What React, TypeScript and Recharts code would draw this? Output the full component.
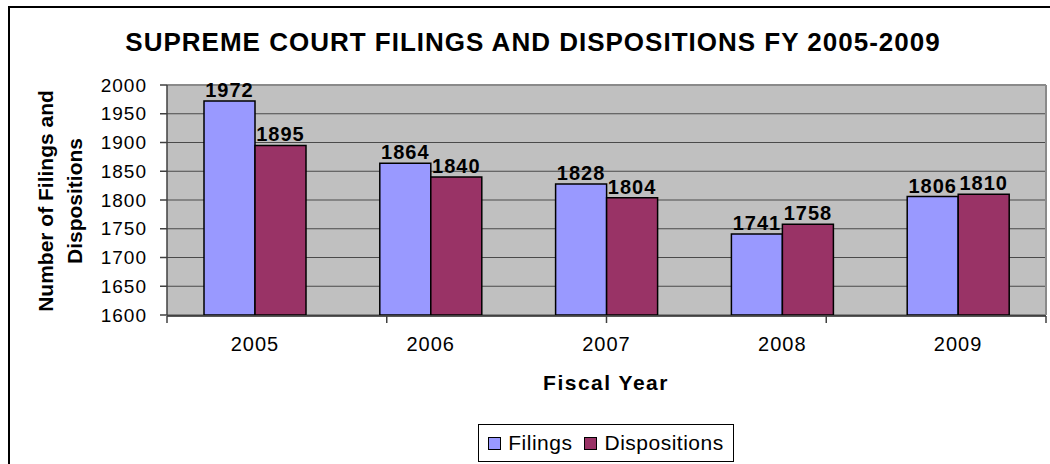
import { Bar, BarChart, CartesianGrid, LabelList, Legend, XAxis, YAxis } from 'recharts'

const years = ['2005', '2006', '2007', '2008', '2009']
const filings = [1972, 1864, 1828, 1741, 1806]
const dispositions = [1895, 1840, 1804, 1758, 1810]
const seriesNames = ['Filings', 'Dispositions']
const yTicks = [1600, 1650, 1700, 1750, 1800, 1850, 1900, 1950, 2000]
const edgeTicks = [0, 1, 2, 3, 4, 5]

const data = years.map((year, i) => ({ year, Filings: filings[i], Dispositions: dispositions[i] }))

const font = '"Liberation Sans", Arial, sans-serif'

function LegendBox({ payload }: any) {
  const items = [...(payload || [])].sort((a: any, b: any) => seriesNames.indexOf(a.value) - seriesNames.indexOf(b.value))
  return (
    <div style={{ display: 'flex', justifyContent: 'center' }}>
      <div
        style={{
          display: 'flex',
          alignItems: 'center',
          gap: 12,
          border: '1px solid #000',
          height: 36,
          padding: '0 9px',
          background: '#fff',
          fontSize: 21,
          fontFamily: font,
          color: '#000',
          letterSpacing: 0.5,
        }}
      >
        {items.map((p: any) => (
          <div key={p.value} style={{ display: 'flex', alignItems: 'center', gap: 7 }}>
            <span style={{ width: 11, height: 11, background: p.color, border: '1.5px solid #000', display: 'inline-block' }} />
            <span>{p.value}</span>
          </div>
        ))}
      </div>
    </div>
  )
}

const NoTick = () => <g />

export default function App() {
  return (
    <div style={{ position: 'fixed', left: 0, top: 0, width: 1050, height: 464, background: '#fff', fontFamily: font, overflow: 'hidden' }}>
      <div style={{ position: 'absolute', left: 8, top: 6, width: 1042, height: 458, borderLeft: '2px solid #000', borderTop: '2px solid #000' }} />
      <div style={{ position: 'absolute', left: 0, width: 1066, top: 27, textAlign: 'center', fontSize: 26, fontWeight: 'bold', letterSpacing: 1 }}>
        SUPREME COURT FILINGS AND DISPOSITIONS FY 2005-2009
      </div>
      <div style={{ position: 'absolute', left: 60, top: 201, width: 0, height: 0 }}>
        <div
          style={{
            position: 'absolute',
            transform: 'translate(-50%, -50%) rotate(-90deg)',
            width: 300,
            textAlign: 'center',
            fontSize: 21,
            fontWeight: 'bold',
            lineHeight: '29px',
            whiteSpace: 'nowrap',
          }}
        >
          Number of Filings and
          <br />
          Dispositions
        </div>
      </div>
      <div style={{ position: 'absolute', left: 0, width: 1212, top: 371, textAlign: 'center', fontSize: 21, fontWeight: 'bold', letterSpacing: 1.5 }}>
        Fiscal Year
      </div>
      <BarChart
        width={1050}
        height={464}
        data={data}
        margin={{ top: 84, right: 3, bottom: 109, left: 107 }}
        barCategoryGap={37}
        barGap={0}
        style={{ position: 'absolute', left: 0, top: 0 }}
      >
        <CartesianGrid vertical={false} stroke="#4a4a4a" fill="#C0C0C0" />
        <XAxis xAxisId="top" orientation="top" dataKey="year" height={1} tick={false} tickLine={false} axisLine={{ stroke: '#8a8a8a', strokeWidth: 2 }} />
        <XAxis
          dataKey="year"
          height={1}
          tickLine={false}
          axisLine={false}
          tickSize={0}
          tickMargin={22}
          interval={0}
          tick={{ fill: '#000', fontSize: 20, letterSpacing: 1 }}
        />
        <XAxis
          xAxisId="edges"
          type="number"
          domain={[0, 5]}
          ticks={edgeTicks}
          interval={0}
          allowDataOverflow
          height={1}
          tick={NoTick}
          tickSize={7}
          tickLine={{ stroke: '#404040', strokeWidth: 1.5 }}
          axisLine={{ stroke: '#202020', strokeWidth: 1.5 }}
        />
        <YAxis
          domain={[1600, 2000]}
          ticks={yTicks}
          interval={0}
          width={60}
          tickSize={7}
          tickMargin={13}
          allowDataOverflow
          tick={{ fill: '#000', fontSize: 19, letterSpacing: 1 }}
          tickLine={{ stroke: '#404040', strokeWidth: 1.5 }}
          axisLine={{ stroke: '#404040', strokeWidth: 1.5 }}
        />
        <YAxis
          yAxisId="right"
          orientation="right"
          domain={[1600, 2000]}
          width={1}
          tick={false}
          tickLine={false}
          axisLine={{ stroke: '#8a8a8a', strokeWidth: 2 }}
        />
        <Legend content={<LegendBox />} wrapperStyle={{ position: 'absolute', top: 424, left: 0, width: 1212, bottom: 'auto' }} />
        <Bar dataKey="Filings" fill="#9999FF" stroke="#000" strokeWidth={1.5} isAnimationActive={false}>
          <LabelList dataKey="Filings" position="top" offset={4} fill="#000" fontSize={20} fontWeight="bold" letterSpacing={1} />
        </Bar>
        <Bar dataKey="Dispositions" fill="#993366" stroke="#000" strokeWidth={1.5} isAnimationActive={false}>
          <LabelList dataKey="Dispositions" position="top" offset={4} fill="#000" fontSize={20} fontWeight="bold" letterSpacing={1} />
        </Bar>
      </BarChart>
    </div>
  )
}
